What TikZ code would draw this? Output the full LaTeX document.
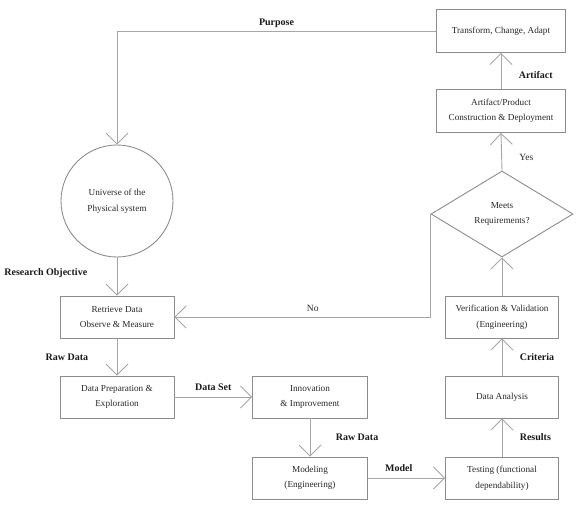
\documentclass[tikz,border=0pt]{standalone}
\usepackage{fontspec}
\setmainfont{Liberation Serif}
\usetikzlibrary{shapes.geometric,arrows.meta}

\begin{document}
\begin{tikzpicture}[x=1pt, y=-1pt,
    box/.style={draw=black!45, line width=0.9pt, minimum height=42pt, align=center, inner sep=2pt, text=black!85, font=\fontsize{9.2}{15.5}\selectfont},
    flow/.style={draw=black!35, line width=0.9pt, -{Straight Barb[length=11pt,width=22pt]}},
    lbl/.style={text=black!90, font=\fontsize{10}{12}\selectfont\bfseries},
    txt/.style={text=black!85, font=\fontsize{9.5}{11}\selectfont}]
    \useasboundingbox (0,0) rectangle (584,509);
    % left column
    \node[box, circle, minimum size=112pt] (univ) at (117,201) {Universe of the\\Physical system};
    \node[box, minimum width=114pt] (retr) at (117,317) {Retrieve Data\\Observe \& Measure};
    \node[box, minimum width=114pt] (prep) at (117,397) {Data Preparation \&\\Exploration};
    % middle column
    \node[box, minimum width=115pt] (innov) at (310,397) {Innovation\\\& Improvement};
    \node[box, minimum width=115pt] (model) at (310,478) {Modeling\\(Engineering)};
    % right column
    \node[box, minimum width=113pt] (test) at (502,478) {Testing (functional\\dependability)};
    \node[box, minimum width=113pt] (anal) at (502,397) {Data Analysis};
    \node[box, minimum width=113pt] (verif) at (502,317) {Verification \& Validation\\(Engineering)};
    \node[box, diamond, aspect=1.65, minimum width=142pt, minimum height=86pt, inner sep=0pt] (meets) at (502,214) {Meets\\Requirements?};
    \node[box, minimum width=129pt, minimum height=43pt] (art) at (501,111) {Artifact/Product\\Construction \& Deployment};
    \node[box, minimum width=129pt, minimum height=43pt] (trans) at (501,31) {Transform, Change, Adapt};
    % connectors
    \draw[flow] (trans.west) -| node[lbl, above, pos=0.25] {Purpose} (univ.north);
    \draw[flow] (univ.south) -- node[lbl, left=26pt, pos=0.42] {Research Objective} (retr.north);
    \draw[flow] (retr.south) -- node[lbl, left=25pt] {Raw Data} (prep.north);
    \draw[flow] (prep.east) -- node[lbl, above=3pt] {Data Set} (innov.west);
    \draw[flow] (innov.south) -- node[lbl, right=22pt] {Raw Data} (model.north);
    \draw[flow] (model.east) -- node[lbl, above=3pt, pos=0.4] {Model} (test.west);
    \draw[flow] (test.north) -- node[lbl, right=14pt] {Results} (anal.south);
    \draw[flow] (anal.north) -- node[lbl, right=14pt] {Criteria} (verif.south);
    \draw[flow] (verif.north) -- (meets.south);
    \draw[flow] (meets.north) -- node[txt, right=14pt, pos=0.35] {Yes} (art.south);
    \draw[flow] (art.north) -- node[lbl, right=14pt, pos=0.4] {Artifact} (trans.south);
    \draw[flow] (meets.west) |- node[txt, above=2pt, pos=0.73] {No} (retr.east);
\end{tikzpicture}
\end{document}
